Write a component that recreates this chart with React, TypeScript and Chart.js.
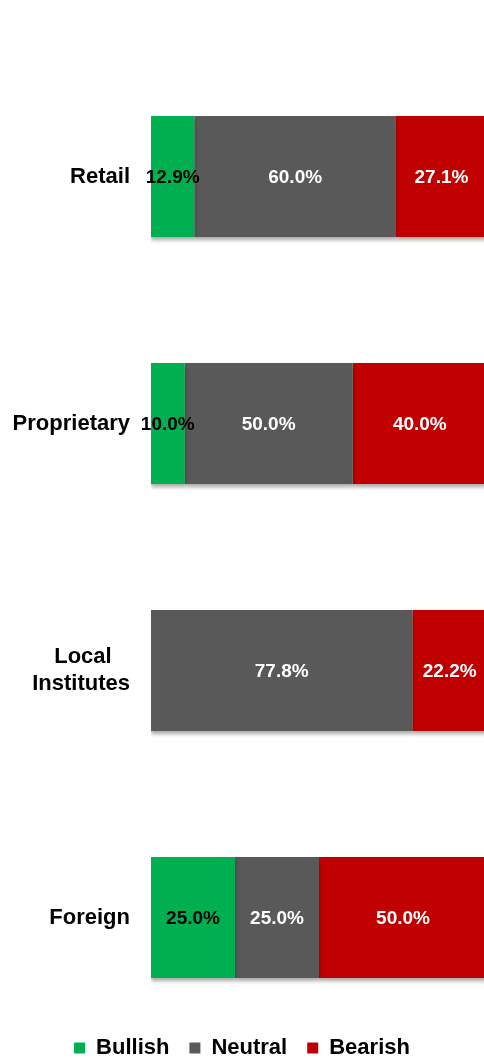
import React, { useEffect, useRef } from "react";
import { Chart, registerables } from "chart.js";

Chart.register(...registerables);

const categories: (string | string[])[] = ["Retail", "Proprietary", ["Local", "Institutes"], "Foreign"];
const seriesNames = ["Bullish", "Neutral", "Bearish"];
const bullish = [12.9, 10.0, 0, 25.0];
const neutral = [60.0, 50.0, 77.8, 25.0];
const bearish = [27.1, 40.0, 22.2, 50.0];
const colors = ["#00B050", "#595959", "#C00000"];
const labelColors = ["#000000", "#FFFFFF", "#FFFFFF"];

const FONT = "'Liberation Sans', Arial, sans-serif";
const TICK_FONT = `bold 22px ${FONT}`;

const barDecor = {
  id: "barDecor",
  afterLayout(chart: any) {
    const lg = chart.legend;
    if (lg) {
      lg.top = chart.height - 41;
      lg.bottom = chart.height;
      lg.height = 41;
    }
  },
  beforeDatasetsDraw(chart: any) {
    const ctx = chart.ctx;
    ctx.save();
    ctx.shadowColor = "rgba(0,0,0,0.35)";
    ctx.shadowBlur = 4;
    ctx.shadowOffsetX = 0;
    ctx.shadowOffsetY = 3;
  },
  afterDatasetsDraw(chart: any) {
    const ctx = chart.ctx;
    ctx.restore();
    ctx.save();
    ctx.font = `bold 19px ${FONT}`;
    ctx.textAlign = "center";
    ctx.textBaseline = "middle";
    chart.data.datasets.forEach((ds: any, di: number) => {
      const meta = chart.getDatasetMeta(di);
      meta.data.forEach((el: any, i: number) => {
        const v = ds.data[i];
        if (!v) return;
        const c = el.getCenterPoint();
        ctx.fillStyle = labelColors[di];
        ctx.fillText(v.toFixed(1) + "%", c.x, c.y + 1);
      });
    });
    ctx.restore();
  },
};

export default function App() {
  const ref = useRef<HTMLCanvasElement | null>(null);
  useEffect(() => {
    if (!ref.current) return;
    const chart = new Chart(ref.current, {
      type: "bar",
      data: {
        labels: categories as any,
        datasets: [bullish, neutral, bearish].map((d, i) => ({
          label: seriesNames[i],
          data: d,
          backgroundColor: colors[i],
          borderWidth: 0,
          barPercentage: 1,
          categoryPercentage: 0.49,
        })),
      },
      options: {
        indexAxis: "y",
        responsive: false,
        animation: false,
        layout: { padding: { top: 53, right: 0, bottom: 0, left: 0 } },
        scales: {
          x: {
            stacked: true,
            min: 0,
            max: 99.1,
            display: false,
          },
          y: {
            stacked: true,
            grid: { display: false, drawTicks: false },
            border: { display: false },
            afterFit(scale: any) {
              scale.width = 151;
              scale.paddingTop = 0;
              scale.paddingBottom = 0;
            },
            ticks: {
              padding: 21,
              color: "#000000",
              font: { family: FONT, size: 22, weight: "bold", lineHeight: 1.2 },
              callback: function (this: any, _v: any, idx: number) {
                const lab = categories[idx];
                if (!Array.isArray(lab)) return lab;
                const ctx = this.chart.ctx;
                ctx.save();
                ctx.font = TICK_FONT;
                const widths = lab.map((s: string) => ctx.measureText(s).width);
                const sp = ctx.measureText(" ").width;
                ctx.restore();
                const maxW = Math.max(...widths);
                return lab.map((s: string, k: number) => s + " ".repeat(Math.round((maxW - widths[k]) / 2 / sp)));
              },
            },
          },
        },
        plugins: {
          legend: {
            position: "bottom",
            maxHeight: 17,
            labels: {
              boxWidth: 11,
              boxHeight: 11,
              padding: 20,
              color: "#000000",
              font: { family: FONT, size: 22, weight: "bold" },
            },
          },
          tooltip: { enabled: false },
        },
      },
      plugins: [barDecor],
    } as any);
    return () => chart.destroy();
  }, []);
  return (
    <div style={{ position: "absolute", left: 0, top: 0, width: 484, height: 1058, background: "#fff" }}>
      <canvas ref={ref} width={484} height={1058} style={{ display: "block" }} />
    </div>
  );
}
